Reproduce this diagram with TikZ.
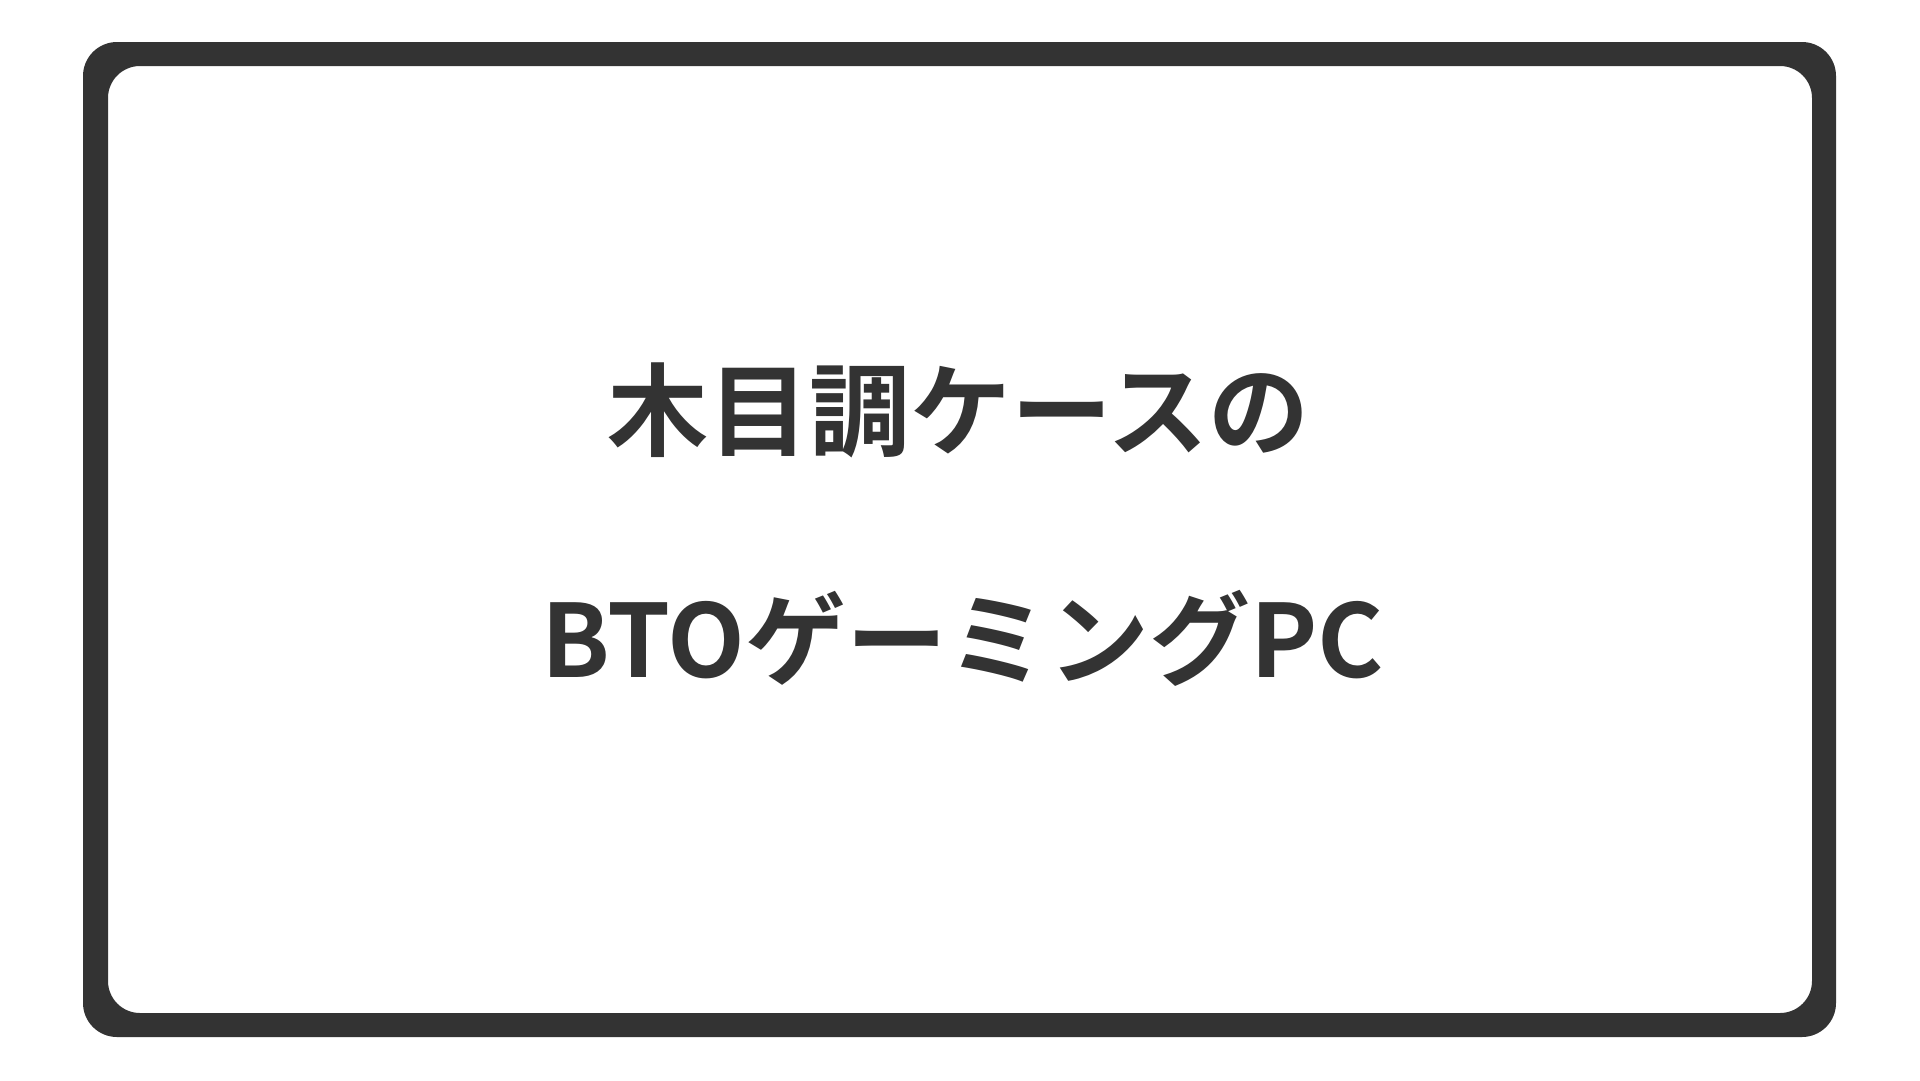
\documentclass[tikz,border=0pt]{standalone}
\usepackage{fontspec}
\newfontfamily\cjk{Noto Sans CJK JP}[BoldFont={* Bold}]
\definecolor{ink}{HTML}{333333}
\begin{document}
\begin{tikzpicture}[x=1pt,y=-1pt,
  title/.style={inner sep=0pt,outer sep=0pt,text=ink,font=\cjk\bfseries\fontsize{101}{120}\selectfont,anchor=base}]
\useasboundingbox (0,0) rectangle (1920,1080);
\fill[white] (0,0) rectangle (1920,1080);
\fill[ink,even odd rule]
  (83,42) [rounded corners=34pt] rectangle (1836,1037)
  (108,66) [rounded corners=32pt] rectangle (1812,1013);
\node[title] (l1) at (958,448) {木目調ケースの};
\node[title] (l2) at (963,677) {BTOゲーミングPC};
\end{tikzpicture}
\end{document}
